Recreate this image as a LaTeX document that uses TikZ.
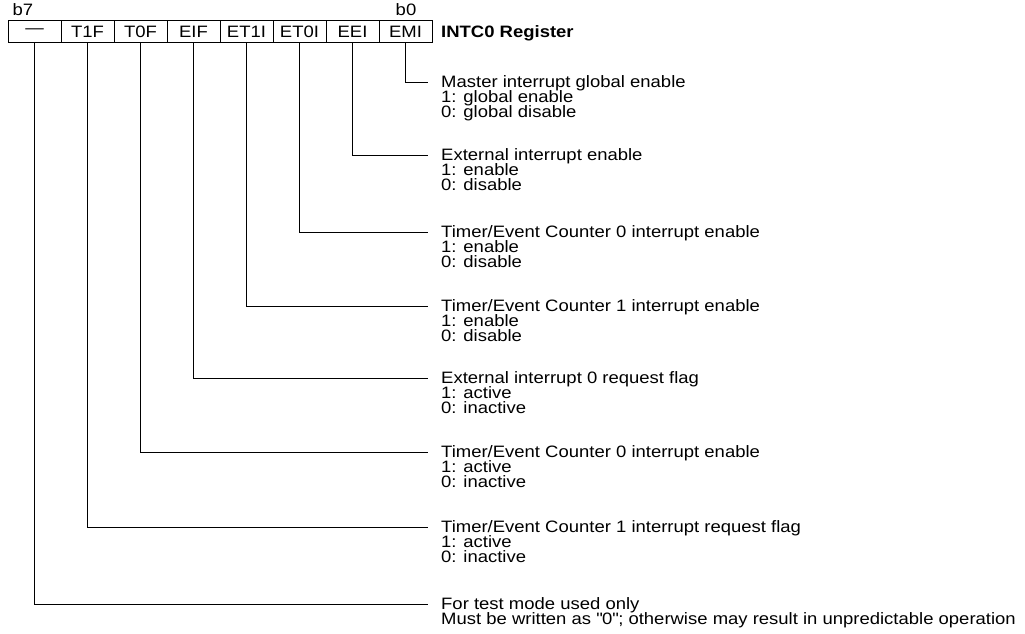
\documentclass[tikz,border=0pt]{standalone}
\usepackage{fontspec}
\setmainfont{Liberation Sans}
\newfontfamily\widesans[FakeStretch=1.12]{Liberation Sans}
\begin{document}
\begin{tikzpicture}[x=1pt,y=-1pt,
  txt/.style={font=\widesans\fontsize{16.5}{15}\selectfont},
  cell/.style={txt, draw, line width=0.9pt, minimum width=53pt, minimum height=22pt, inner sep=0pt},
  lbl/.style={txt, anchor=west, inner xsep=13pt, inner ysep=0pt, text height=11.8pt, text depth=0pt},
  wire/.style={line width=0.9pt}]
\useasboundingbox (0,0) rectangle (1025,634);
% register cells
\node[cell] (c7) at (34.5,31.5) {—};
\node[cell] (c6) at (87.5,31.5) {T1F};
\node[cell] (c5) at (140.5,31.5) {T0F};
\node[cell] (c4) at (193.5,31.5) {EIF};
\node[cell] (c3) at (246.5,31.5) {ET1I};
\node[cell] (c2) at (299.5,31.5) {ET0I};
\node[cell] (c1) at (352.5,31.5) {EEI};
\node[cell] (c0) at (405.5,31.5) {EMI};
\node[txt] (b7) at (23,10) {b7};
\node[txt] (b0) at (406,10) {b0};
\node[txt, font=\widesans\fontsize{16.5}{15}\selectfont\bfseries, anchor=west, inner sep=0pt, text height=11.8pt, text depth=0pt] (title) at (441,31.5) {INTC0 Register};
% descriptions
\node[lbl] (d0) at (428,82) {Master interrupt global enable};
\node[lbl] (d0b) at (428,97) {1: global enable};
\node[lbl] (d0c) at (428,112) {0: global disable};
\node[lbl] (d1) at (428,155) {External interrupt enable};
\node[lbl] (d1b) at (428,170) {1: enable};
\node[lbl] (d1c) at (428,185) {0: disable};
\node[lbl] (d2) at (428,232) {Timer/Event Counter 0 interrupt enable};
\node[lbl] (d2b) at (428,247) {1: enable};
\node[lbl] (d2c) at (428,262) {0: disable};
\node[lbl] (d3) at (428,306) {Timer/Event Counter 1 interrupt enable};
\node[lbl] (d3b) at (428,321) {1: enable};
\node[lbl] (d3c) at (428,336) {0: disable};
\node[lbl] (d4) at (428,378) {External interrupt 0 request flag};
\node[lbl] (d4b) at (428,393) {1: active};
\node[lbl] (d4c) at (428,408) {0: inactive};
\node[lbl] (d5) at (428,452) {Timer/Event Counter 0 interrupt enable};
\node[lbl] (d5b) at (428,467) {1: active};
\node[lbl] (d5c) at (428,482) {0: inactive};
\node[lbl] (d6) at (428,527) {Timer/Event Counter 1 interrupt request flag};
\node[lbl] (d6b) at (428,542) {1: active};
\node[lbl] (d6c) at (428,557) {0: inactive};
\node[lbl] (d7) at (428,604) {For test mode used only};
\node[lbl] (d7b) at (428,619) {Must be written as \textquotedbl 0\textquotedbl; otherwise may result in unpredictable operation};
% connectors
\foreach \i in {0,...,7}{
  \draw[wire] (c\i.south) |- (d\i.west);
}
\end{tikzpicture}
\end{document}
